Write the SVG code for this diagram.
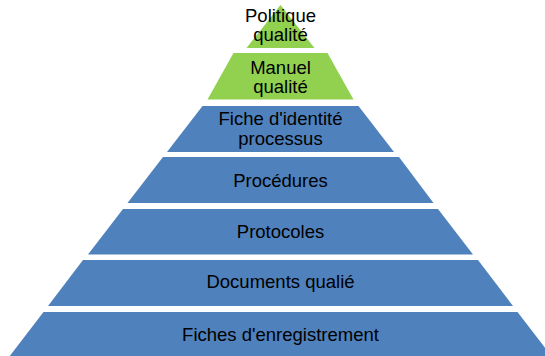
<svg xmlns="http://www.w3.org/2000/svg" width="545" height="356" viewBox="0 0 545 356">
<style>
.g{fill:#92D050}
.b{fill:#4F81BD}
text{font-family:"Liberation Sans",Arial,sans-serif;font-size:18.5px;fill:#000;text-anchor:middle}
</style>
<rect width="545" height="356" fill="#fff"/>
<g id="politique">
<polygon class="g" points="280.5,5 314.5,48 246.5,48"/>
<text x="280.5" y="21.5">Politique</text>
<text x="280.5" y="40.5">qualité</text>
</g>
<g id="manuel">
<polygon class="g" points="233.5,53 327.5,53 353.5,99.5 207.5,99.5"/>
<text x="280.5" y="74">Manuel</text>
<text x="280.5" y="93">qualité</text>
</g>
<g id="fiche-identite">
<polygon class="b" points="202.5,106 358.5,106 394,152 167,152"/>
<text x="280.5" y="125">Fiche d'identité</text>
<text x="280.5" y="144.5">processus</text>
</g>
<g id="procedures">
<polygon class="b" points="163,157 399,157 433.5,203 127.5,203"/>
<text x="280.5" y="186.5">Procédures</text>
</g>
<g id="protocoles">
<polygon class="b" points="123,209 438,209 473,254.5 88,254.5"/>
<text x="280.5" y="237.5">Protocoles</text>
</g>
<g id="documents">
<polygon class="b" points="83,260 478,260 513,306 48,306"/>
<text x="280.5" y="288">Documents qualié</text>
</g>
<g id="enregistrement">
<polygon class="b" points="43.5,312 517.5,312 552,357 9,357"/>
<text x="280.5" y="341">Fiches d'enregistrement</text>
</g>
<g id="connectors"/>
</svg>
